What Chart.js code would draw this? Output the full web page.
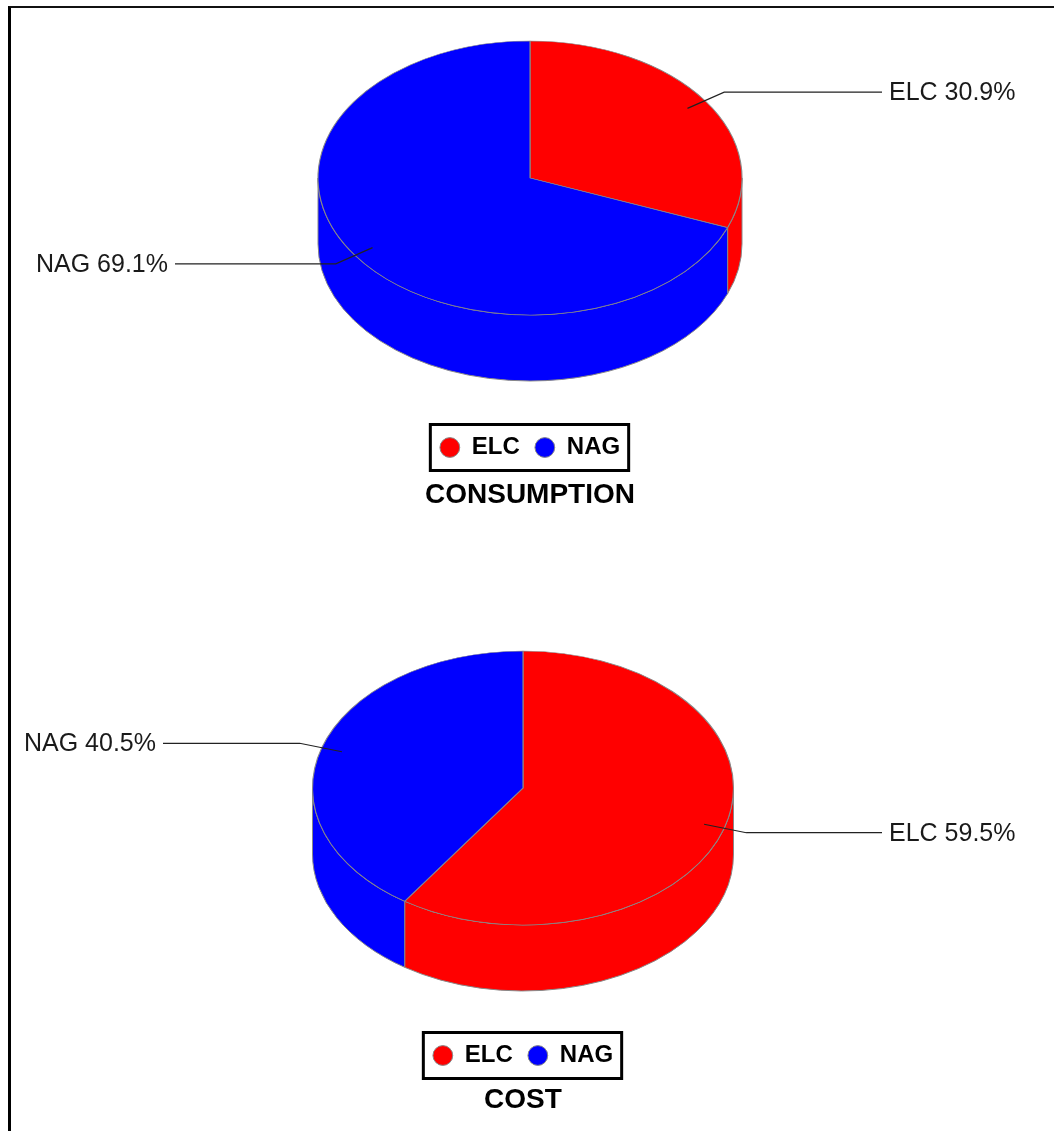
<!DOCTYPE html>
<html>
<head>
<meta charset="utf-8">
<title>ELC / NAG</title>
<script src="https://cdn.jsdelivr.net/npm/chart.js@4.4.1/dist/chart.umd.min.js"></script>
<style>
  html, body { margin: 0; padding: 0; background: #fff; overflow: hidden; }
  body { width: 1054px; height: 1131px; position: relative; }
  canvas { position: absolute; left: 0; }
  #frame {
    position: absolute; left: 8px; top: 6px; width: 1100px; height: 1200px;
    border-top: 2px solid #111; border-left: 3px solid #000; pointer-events: none;
  }
</style>
</head>
<body>
<canvas id="consumo" width="1054" height="610" style="top:0"></canvas>
<canvas id="custo" width="1054" height="610" style="top:610px"></canvas>
<div id="frame"></div>
<script>
// energy sources and their shares (%)
const sources = ['ELC', 'NAG'];
const consumptionShare = [30.9, 69.1];
const costShare = [59.5, 40.5];
const sourceColors = ['#ff0000', '#0000ff'];

const FONT = '"Liberation Sans", Arial, Helvetica, sans-serif';

// fake 3D pie: draws the cylinder wall, squashes the arcs into an ellipse,
// then puts the outside labels with leader lines
const pie3d = {
  id: 'pie3d',
  beforeDatasetsDraw(chart, args, opts) {
    const ctx = chart.ctx;
    const arcs = chart.getDatasetMeta(0).data;
    const ds = chart.data.datasets[0];
    const { x: cx, y: cy, outerRadius: r } = arcs[0];
    const top = chart.chartArea.top + opts.ry;

    // only the front half of the wall (0..PI) can be seen
    arcs.forEach((arc, i) => {
      [[0, Math.PI], [2 * Math.PI, 3 * Math.PI]].forEach(([lo, hi]) => {
        const a = Math.max(arc.startAngle, lo);
        const b = Math.min(arc.endAngle, hi);
        if (b <= a) return;
        ctx.beginPath();
        ctx.ellipse(cx, top, opts.rx, opts.ry, 0, a, b);
        ctx.ellipse(cx, top + opts.depth, opts.rx, opts.ry, 0, b, a, true);
        ctx.closePath();
        ctx.fillStyle = ds.backgroundColor[i];
        ctx.fill();
        ctx.strokeStyle = ds.borderColor;
        ctx.lineWidth = 1;
        ctx.stroke();
      });
    });

    ctx.save();
    ctx.translate(cx, top);
    ctx.scale(opts.rx / r, opts.ry / r);
    ctx.translate(-cx, -cy);
  },
  afterDatasetsDraw(chart, args, opts) {
    const ctx = chart.ctx;
    ctx.restore();

    const arcs = chart.getDatasetMeta(0).data;
    const ds = chart.data.datasets[0];
    const cx = arcs[0].x;
    const top = chart.chartArea.top + opts.ry;

    ctx.save();
    ctx.font = '25px ' + FONT;
    ctx.textBaseline = 'middle';
    arcs.forEach((arc, i) => {
      const mid = (arc.startAngle + arc.endAngle) / 2;
      const c = Math.cos(mid), s = Math.sin(mid);
      const x0 = cx + opts.rx * 0.9 * c, y0 = top + opts.ry * 0.9 * s;
      const x1 = cx + opts.rx * 1.11 * c, y1 = top + opts.ry * 1.11 * s;
      const right = c >= 0;
      const x2 = right ? cx + opts.reach[1] : cx - opts.reach[0];

      ctx.beginPath();
      ctx.moveTo(x0, y0);
      ctx.lineTo(x1, y1);
      ctx.lineTo(x2, y1);
      ctx.strokeStyle = '#222';
      ctx.lineWidth = 1.2;
      ctx.stroke();

      ctx.textAlign = right ? 'left' : 'right';
      ctx.fillStyle = '#1a1a1a';
      const txt = chart.data.labels[i] + ' ' + ds.data[i].toFixed(1) + '%';
      ctx.fillText(txt, x2 + (right ? 7 : -7), y1 + 1);
    });
    ctx.restore();
  },
  afterDraw(chart) {
    // framed legend
    const hb = chart.legend.legendHitBoxes;
    if (!hb || !hb.length) return;
    const last = hb[hb.length - 1];
    const l = hb[0].left - 11;
    const r = last.left + last.width + 10;
    const mid = hb[0].top + hb[0].height / 2;
    const ctx = chart.ctx;
    ctx.save();
    ctx.strokeStyle = '#000';
    ctx.lineWidth = 3;
    ctx.strokeRect(l + 1.5, mid - 23, r - l - 3, 46);
    ctx.restore();
  }
};

function makePie(id, values, title, lay) {
  return new Chart(document.getElementById(id), {
    type: 'pie',
    data: {
      labels: sources,
      datasets: [{
        data: values,
        backgroundColor: sourceColors,
        borderColor: '#888',
        borderWidth: 1,
        clip: false
      }]
    },
    options: {
      responsive: false,
      animation: false,
      events: [],
      layout: { padding: { top: 41, left: lay.left, right: lay.right, bottom: lay.bottom } },
      plugins: {
        tooltip: { enabled: false },
        legend: {
          position: 'bottom',
          labels: {
            usePointStyle: true,
            pointStyle: 'circle',
            boxWidth: 20,
            boxHeight: 14,
            padding: 15,
            color: '#000',
            font: { family: FONT, size: 24, weight: 'bold' }
          }
        },
        title: {
          display: true,
          text: title,
          position: 'bottom',
          color: '#000',
          font: { family: FONT, size: 28, weight: 'bold' },
          padding: { top: lay.titleTop, bottom: 10 }
        },
        pie3d: { rx: lay.rx, ry: 137, depth: 66, reach: lay.reach }
      }
    },
    plugins: [pie3d]
  });
}

makePie('consumo', consumptionShare, 'CONSUMPTION',
  { left: 6, right: 0, bottom: 88.2, titleTop: 8.7, rx: 212, reach: [355, 352] });
makePie('custo', costShare, 'COST',
  { left: 6, right: 14, bottom: 93.2, titleTop: 5.7, rx: 210.5, reach: [360, 359] });
</script>
</body>
</html>
